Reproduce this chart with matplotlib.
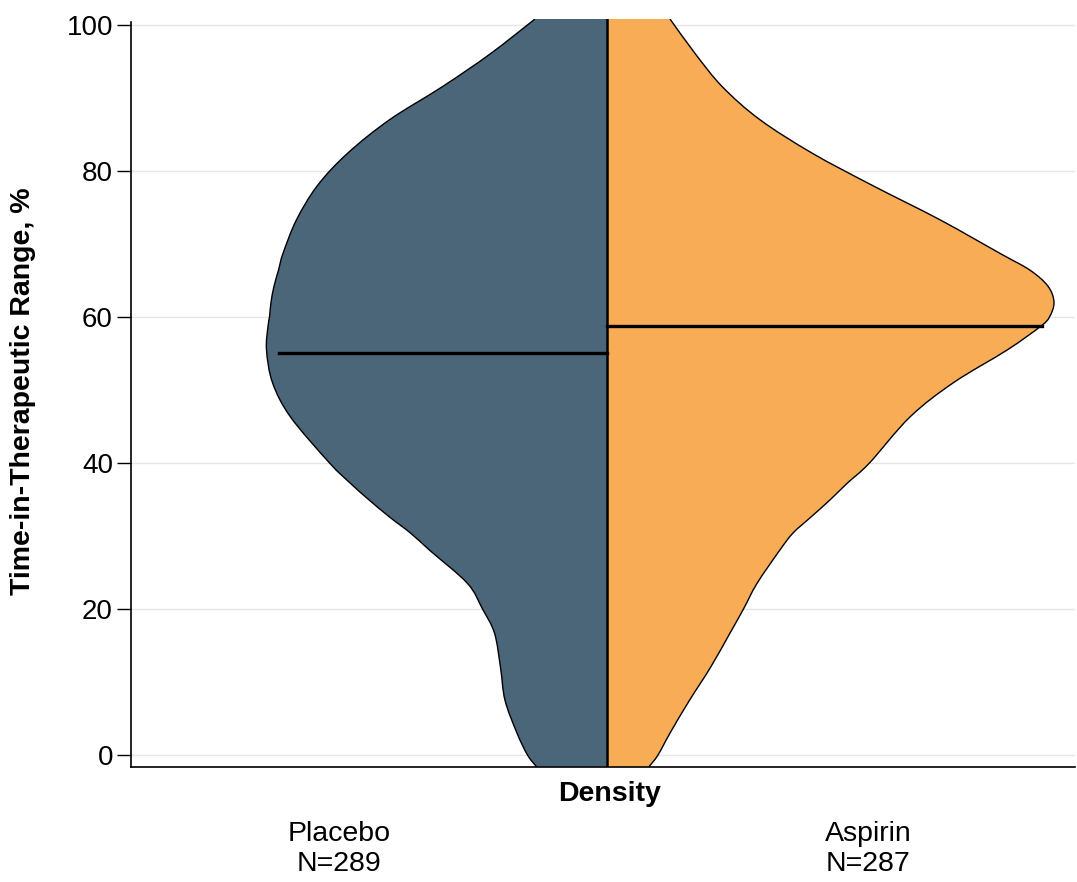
import matplotlib
matplotlib.use("Agg")
import matplotlib.pyplot as plt
from matplotlib.path import Path
from matplotlib.patches import PathPatch
import numpy as np

plt.rcParams['font.family'] = ['Liberation Sans', 'DejaVu Sans']

# TTR grid (%) and kernel density for each arm
ttr = [-1.6, 0, 3, 7.5, 12, 16.7, 20, 23.5, 28, 30.4, 32.6, 35, 37.2, 40,
       46.3, 51, 55.5, 58.7, 60, 62, 64.2, 66.4, 68.7, 73.3, 78, 82.4, 87,
       91.5, 96, 100.8]
dens_placebo = [0.0047, 0.0053, 0.0060, 0.0068, 0.0071, 0.0075, 0.0083, 0.0093,
                0.0118, 0.0131, 0.0145, 0.0159, 0.0171, 0.0185,
                0.0211, 0.0223, 0.0227, 0.0226, 0.0225, 0.0224, 0.0222, 0.0219,
                0.0216, 0.0207, 0.0193, 0.0173, 0.0145, 0.0110, 0.0078,
                0.0048]
dens_aspirin = [0.0028, 0.0034, 0.0042, 0.0055, 0.0069, 0.0082, 0.0091, 0.0100,
                0.0115, 0.0124, 0.0136, 0.0149, 0.0160, 0.0175,
                0.0202, 0.0231, 0.0267, 0.0289, 0.0295, 0.0298, 0.0294, 0.0282,
                0.0262, 0.0222, 0.0177, 0.0137, 0.0102, 0.0077, 0.0059,
                0.0042]

groups = ["Placebo", "Aspirin"]
n_obs = [289, 287]
medians = [55.0, 58.8]
median_len = [0.0219, 0.0290]

col_placebo = "#4B6579"
col_aspirin = "#F8AC55"


def smooth_outline(xs, ys):
    # cubic bezier pieces through the read points (catmull-rom style)
    pts = np.column_stack([xs, ys])
    ext = np.vstack([pts[0], pts, pts[-1]])
    verts = [tuple(pts[0])]
    codes = [Path.MOVETO]
    for i in range(1, len(ext) - 2):
        p0, p1, p2, p3 = ext[i - 1], ext[i], ext[i + 1], ext[i + 2]
        c1 = p1 + (p2 - p0) / 6
        c2 = p2 - (p3 - p1) / 6
        verts += [tuple(c1), tuple(c2), tuple(p2)]
        codes += [Path.CURVE4] * 3
    return verts, codes


def half_violin(ax, dens, sign, color):
    x = sign * np.array(dens)
    y = np.array(ttr)
    verts, codes = smooth_outline(x, y)
    fill_verts = verts + [(0, y[-1]), (0, y[0]), verts[0]]
    fill_codes = codes + [Path.LINETO, Path.LINETO, Path.CLOSEPOLY]
    ax.add_patch(PathPatch(Path(fill_verts, fill_codes), facecolor=color,
                           edgecolor="none", zorder=2))
    ax.add_patch(PathPatch(Path(verts, codes), facecolor="none",
                           edgecolor="black", linewidth=1.0, zorder=3))


fig = plt.figure(figsize=(10.77, 8.82), dpi=100)
ax = fig.add_axes([131/1077, 1 - 767/882, 944/1077, 748/882])

for t in range(0, 101, 20):
    ax.axhline(t, color="#E6E6E6", linewidth=1.0, zorder=0)

half_violin(ax, dens_placebo, -1, col_placebo)
half_violin(ax, dens_aspirin, 1, col_aspirin)
ax.axvline(0, color="black", linewidth=1.8, zorder=3)

# medians
ax.plot([-median_len[0], 0], [medians[0], medians[0]], color="black", linewidth=2.4, zorder=4)
ax.plot([0, median_len[1]], [medians[1], medians[1]], color="black", linewidth=2.4, zorder=4)

ax.set_xlim(-476/15000, 468/15000)
ax.set_ylim(-1.64, 100.8)

ax.spines['top'].set_visible(False)
ax.spines['right'].set_visible(False)
ax.spines['left'].set_bounds(-1.64, 100.4)
ax.spines['left'].set_linewidth(1.2)
ax.spines['bottom'].set_linewidth(1.2)

ax.set_yticks(range(0, 101, 20))
ax.tick_params(axis='y', length=10, width=1.0, labelsize=20, pad=3)
ax.set_xticks([])

ax.set_ylabel("Time-in-Therapeutic Range, %", fontsize=20.5, fontweight="bold")
ax.yaxis.set_label_coords(-0.1006, 0.503)

fig.text(610/1077, 1 - 794/882, "Density", fontsize=20.5, fontweight="bold",
         ha="center", va="center")
label_x = [339, 868]
for g, n, lx in zip(groups, n_obs, label_x):
    fig.text(lx/1077, 1 - 834/882, g, fontsize=20.5, ha="center", va="center")
    fig.text(lx/1077, 1 - 864/882, f"N={n}", fontsize=20.5, ha="center", va="center")

fig.savefig("out.png", dpi=100)
